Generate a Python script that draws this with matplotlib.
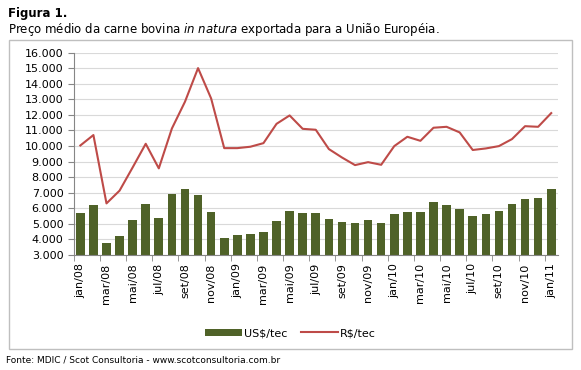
import matplotlib.pyplot as plt
import numpy as np
from matplotlib.patches import Rectangle
from matplotlib.ticker import FuncFormatter

meses = ['jan', 'fev', 'mar', 'abr', 'mai', 'jun', 'jul', 'ago', 'set', 'out', 'nov', 'dez']
labels = [f'{m}/{a:02d}' for a in (8, 9, 10) for m in meses] + ['jan/11']

usd = [5.67, 6.19, 3.75, 4.24, 5.22, 6.27, 5.35, 6.91, 7.21, 6.85, 5.78, 4.11,
       4.28, 4.35, 4.45, 5.18, 5.80, 5.67, 5.72, 5.29, 5.14, 5.05, 5.22, 5.05,
       5.65, 5.78, 5.78, 6.38, 6.19, 5.93, 5.52, 5.61, 5.82, 6.25, 6.59, 6.63, 7.23]
brl = [10.03, 10.70, 6.31, 7.13, 8.62, 10.14, 8.56, 11.12, 12.84, 15.00, 13.05, 9.86,
       9.86, 9.95, 10.18, 11.42, 11.96, 11.10, 11.04, 9.80, 9.26, 8.77, 8.96, 8.79,
       9.99, 10.59, 10.33, 11.17, 11.23, 10.87, 9.74, 9.84, 9.99, 10.44, 11.27, 11.23, 12.11]

plt.rcParams['font.family'] = 'DejaVu Sans'

fig = plt.figure(figsize=(5.81, 3.70), dpi=100)
ax = fig.add_axes([0.127, 0.311, 0.833, 0.547])

x = np.arange(len(labels))
bars = ax.bar(x, np.array(usd) - 3, bottom=3, width=0.66, color='#4F6228', label='US$/tec', zorder=2)
line, = ax.plot(x, brl, color='#BE4B48', lw=1.5, label='R$/tec', zorder=3)

ax.set_xlim(-0.5, len(labels) - 0.5)
ax.set_ylim(3, 16)
ax.set_yticks(range(3, 17))
ax.yaxis.set_major_formatter(FuncFormatter(lambda v, p: f'{int(v)}.000'))
ax.yaxis.grid(True, color='#D9D9D9', lw=0.8, zorder=0)
ax.set_xticks(x[::2])
ax.set_xticklabels(labels[::2], rotation=90)
ax.set_xticks(np.arange(-0.5, len(labels), 2), minor=True)
ax.tick_params(axis='x', which='major', length=0, pad=6, labelsize=8)
ax.tick_params(axis='x', which='minor', length=4, color='#868686')
ax.tick_params(axis='y', length=4, color='#868686', labelsize=8)
for s in ['top', 'right']:
    ax.spines[s].set_visible(False)
ax.spines['left'].set_color('#868686')
ax.spines['bottom'].set_color('#868686')

fig.legend([bars, line], ['US$/tec', 'R$/tec'], loc='center', bbox_to_anchor=(0.5, 0.1),
           ncol=2, frameon=False, fontsize=8, handlelength=3.3, handleheight=0.6,
           columnspacing=1.2, handletextpad=0.2)

fig.patches.append(Rectangle((9 / 581, 1 - 349 / 370), 563 / 581, 309 / 370,
                             transform=fig.transFigure, fill=False, ec='#BFBFBF', lw=1))

fig.text(8 / 581, 1 - 14 / 370, 'Figura 1.', fontsize=8.5, weight='bold', va='center')
fig.text(8 / 581, 1 - 30 / 370,
         r'Preço médio da carne bovina $\it{in\ natura}$ exportada para a União Européia.',
         fontsize=8.5, va='center')
fig.text(6 / 581, 1 - 360 / 370, 'Fonte: MDIC / Scot Consultoria - www.scotconsultoria.com.br',
         fontsize=6.5, va='center')

fig.savefig('out.png', dpi=100)
